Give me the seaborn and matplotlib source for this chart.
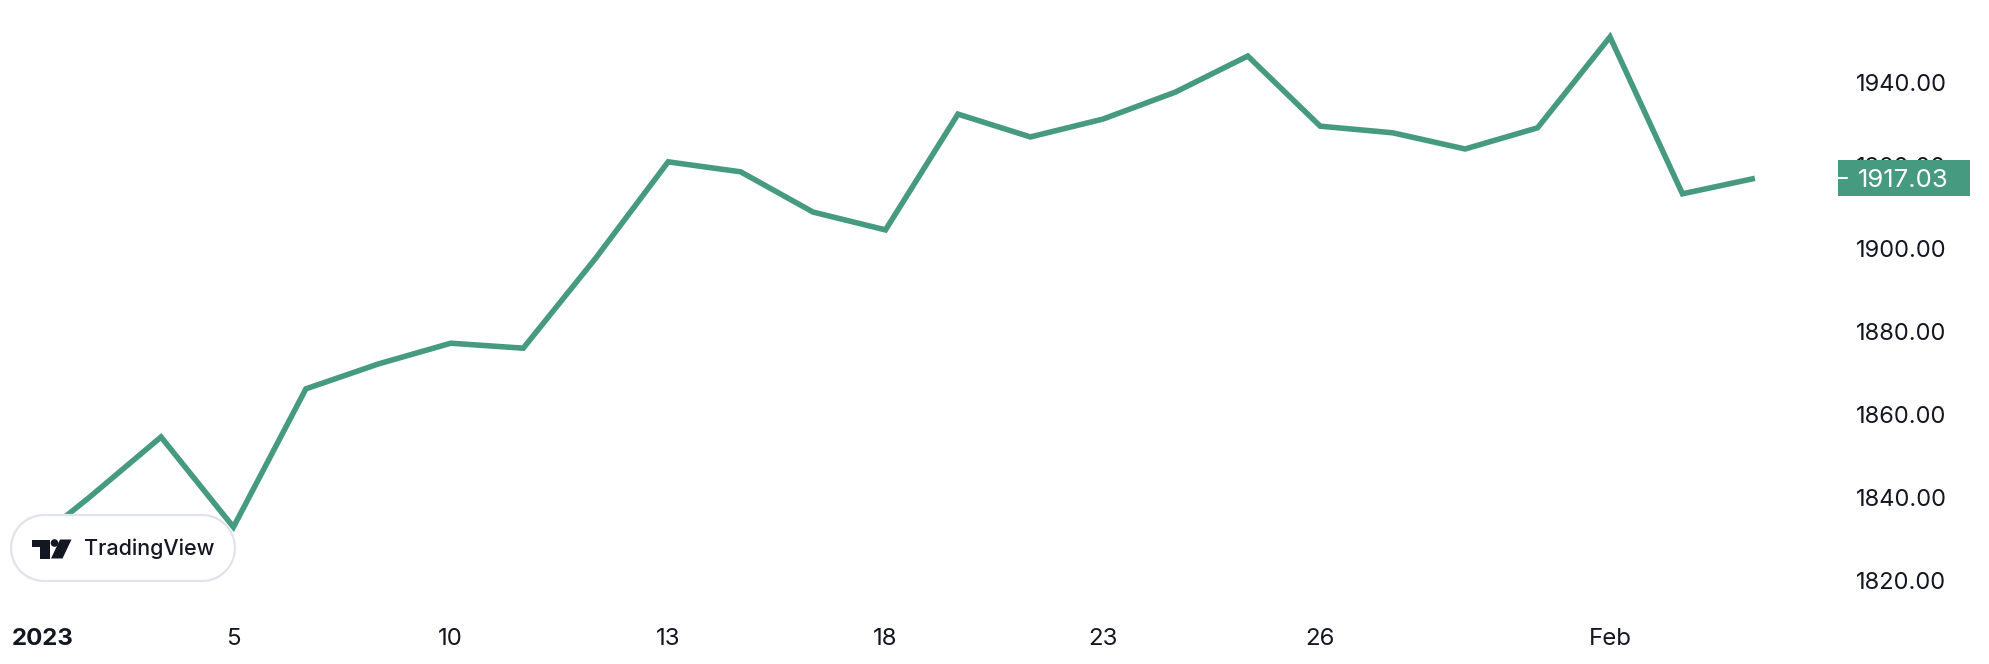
import matplotlib
matplotlib.use("Agg")
import matplotlib.pyplot as plt
import matplotlib.patches as mpatches
import matplotlib.transforms as mtransforms
import seaborn as sns
import pandas as pd
import numpy as np

# ---- data ----
dates = ["2023-01-02", "2023-01-03", "2023-01-04", "2023-01-05", "2023-01-06",
         "2023-01-09", "2023-01-10", "2023-01-11", "2023-01-12", "2023-01-13",
         "2023-01-16", "2023-01-17", "2023-01-18", "2023-01-19", "2023-01-20",
         "2023-01-23", "2023-01-24", "2023-01-25", "2023-01-26", "2023-01-27",
         "2023-01-30", "2023-01-31", "2023-02-01", "2023-02-02", "2023-02-03"]
prices = [1826.0, 1840.0, 1854.7, 1833.0, 1866.3,
          1872.3, 1877.3, 1876.1, 1897.8, 1921.0,
          1918.6, 1908.9, 1904.6, 1932.5, 1927.0,
          1931.3, 1937.8, 1946.5, 1929.6, 1928.0,
          1924.1, 1929.2, 1951.1, 1913.3, 1917.03]
tick_dates = ["2023-01-02", "2023-01-05", "2023-01-10", "2023-01-13", "2023-01-18",
              "2023-01-23", "2023-01-26", "2023-02-01"]
tick_labels = ["2023", "5", "10", "13", "18", "23", "26", "Feb"]
y_ticks = [1820, 1840, 1860, 1880, 1900, 1920, 1940]
last_label = "1917.03"

LINE = "#469A80"
TEXT = "#131722"

sns.set_theme(style="white")
plt.rcParams["font.family"] = ["Inter", "DejaVu Sans"]

W, H = 1990, 664
fig = plt.figure(figsize=(W / 100, H / 100), dpi=100)
fig.patch.set_facecolor("white")

# axes placed in pixel terms
ax_left, ax_right, ax_top, ax_bottom = 0, 1830, 0, 610
ax = fig.add_axes([ax_left / W, 1 - ax_bottom / H, (ax_right - ax_left) / W, (ax_bottom - ax_top) / H])
ax.set_facecolor("white")

df = pd.DataFrame({"date": pd.to_datetime(dates), "price": prices})
df["idx"] = np.arange(len(df))
sns.lineplot(data=df, x="idx", y="price", ax=ax, color=LINE, linewidth=4.0,
             solid_joinstyle="miter", solid_capstyle="butt")

spacing = 72.45
x0_px = 16.1
ax.set_xlim(-x0_px / spacing, (ax_right - x0_px) / spacing)
ppu = 4.15
ax.set_ylim(1820 - 29 / ppu, 1820 + 581 / ppu)

for s in ax.spines.values():
    s.set_visible(False)
ax.grid(False)
ax.set_xlabel("")
ax.set_ylabel("")

# x ticks
date_to_idx = {d: i for i, d in enumerate(dates)}
ax.set_xticks([date_to_idx[d] for d in tick_dates])
ax.set_xticklabels(tick_labels)
ax.tick_params(axis="x", length=0, pad=13, labelsize=17.3, labelcolor=TEXT)
xlabels = ax.get_xticklabels()
xlabels[0].set_fontweight("bold")
xlabels[0].set_horizontalalignment("left")
xlabels[0].set_transform(xlabels[0].get_transform() +
                         mtransforms.ScaledTranslation(-4 / 100, 0, fig.dpi_scale_trans))

# y ticks on right
ax.yaxis.tick_right()
ax.set_yticks(y_ticks)
ax.set_yticklabels([f"{v:.2f}" for v in y_ticks])
ax.tick_params(axis="y", length=0, pad=19, labelsize=17.0, labelcolor=TEXT)

# last-value label box
blend = mtransforms.blended_transform_factory(fig.transFigure, ax.transData)
last = prices[-1]
box_h = 36 / ppu
rect = mpatches.Rectangle((1838 / W, last - box_h / 2), 132 / W, box_h,
                          transform=blend, facecolor=LINE, edgecolor="none", zorder=5)
fig.add_artist(rect)
fig.add_artist(plt.Line2D([1838 / W, 1847 / W], [last, last], transform=blend,
                          color="white", linewidth=1.5, zorder=6))
fig.text(1858 / W, last, last_label, transform=blend, color="white",
         fontsize=18.5, ha="left", va="center_baseline", zorder=7)

# TradingView badge (pixel coords from top-left)
def fx(px):
    return px / W

def fy(py):
    return 1 - py / H

cap_w, cap_h = 224, 66
r = cap_h / 2
cx1, cx2, cyc = 11 + r, 11 + cap_w - r, 548
theta = np.linspace(np.pi / 2, 3 * np.pi / 2, 40)
left_arc = [(cx1 + r * np.cos(t), cyc - r * np.sin(t)) for t in theta]
theta2 = np.linspace(-np.pi / 2, np.pi / 2, 40)
right_arc = [(cx2 + r * np.cos(t), cyc - r * np.sin(t)) for t in theta2]
pts = left_arc + right_arc
pts_fig = [(fx(px), fy(py)) for px, py in pts]
capsule = mpatches.Polygon(pts_fig, closed=True, transform=fig.transFigure,
                           facecolor="white", edgecolor="#e0e3eb", linewidth=1.6, zorder=8)
fig.add_artist(capsule)

def poly(points):
    return mpatches.Polygon([(fx(a), fy(b)) for a, b in points], closed=True,
                            transform=fig.transFigure, facecolor=TEXT, edgecolor="none", zorder=9)

fig.add_artist(poly([(32, 539.5), (50, 539.5), (50, 558.5), (39.5, 558.5), (39.5, 546.5), (32, 546.5)]))
fig.add_artist(poly([(60, 539.5), (71.5, 539.5), (62.5, 558.5), (51, 558.5)]))
circ = mpatches.Ellipse((fx(54.5), fy(543)), 7.6 / W, 7.6 / H, transform=fig.transFigure,
                        facecolor=TEXT, edgecolor="none", zorder=9)
fig.add_artist(circ)
fig.text(fx(84), fy(549), "TradingView", color=TEXT, fontsize=15.5, fontweight="medium",
         ha="left", va="center", zorder=10)

fig.savefig("out.png", dpi=100, facecolor="white")
